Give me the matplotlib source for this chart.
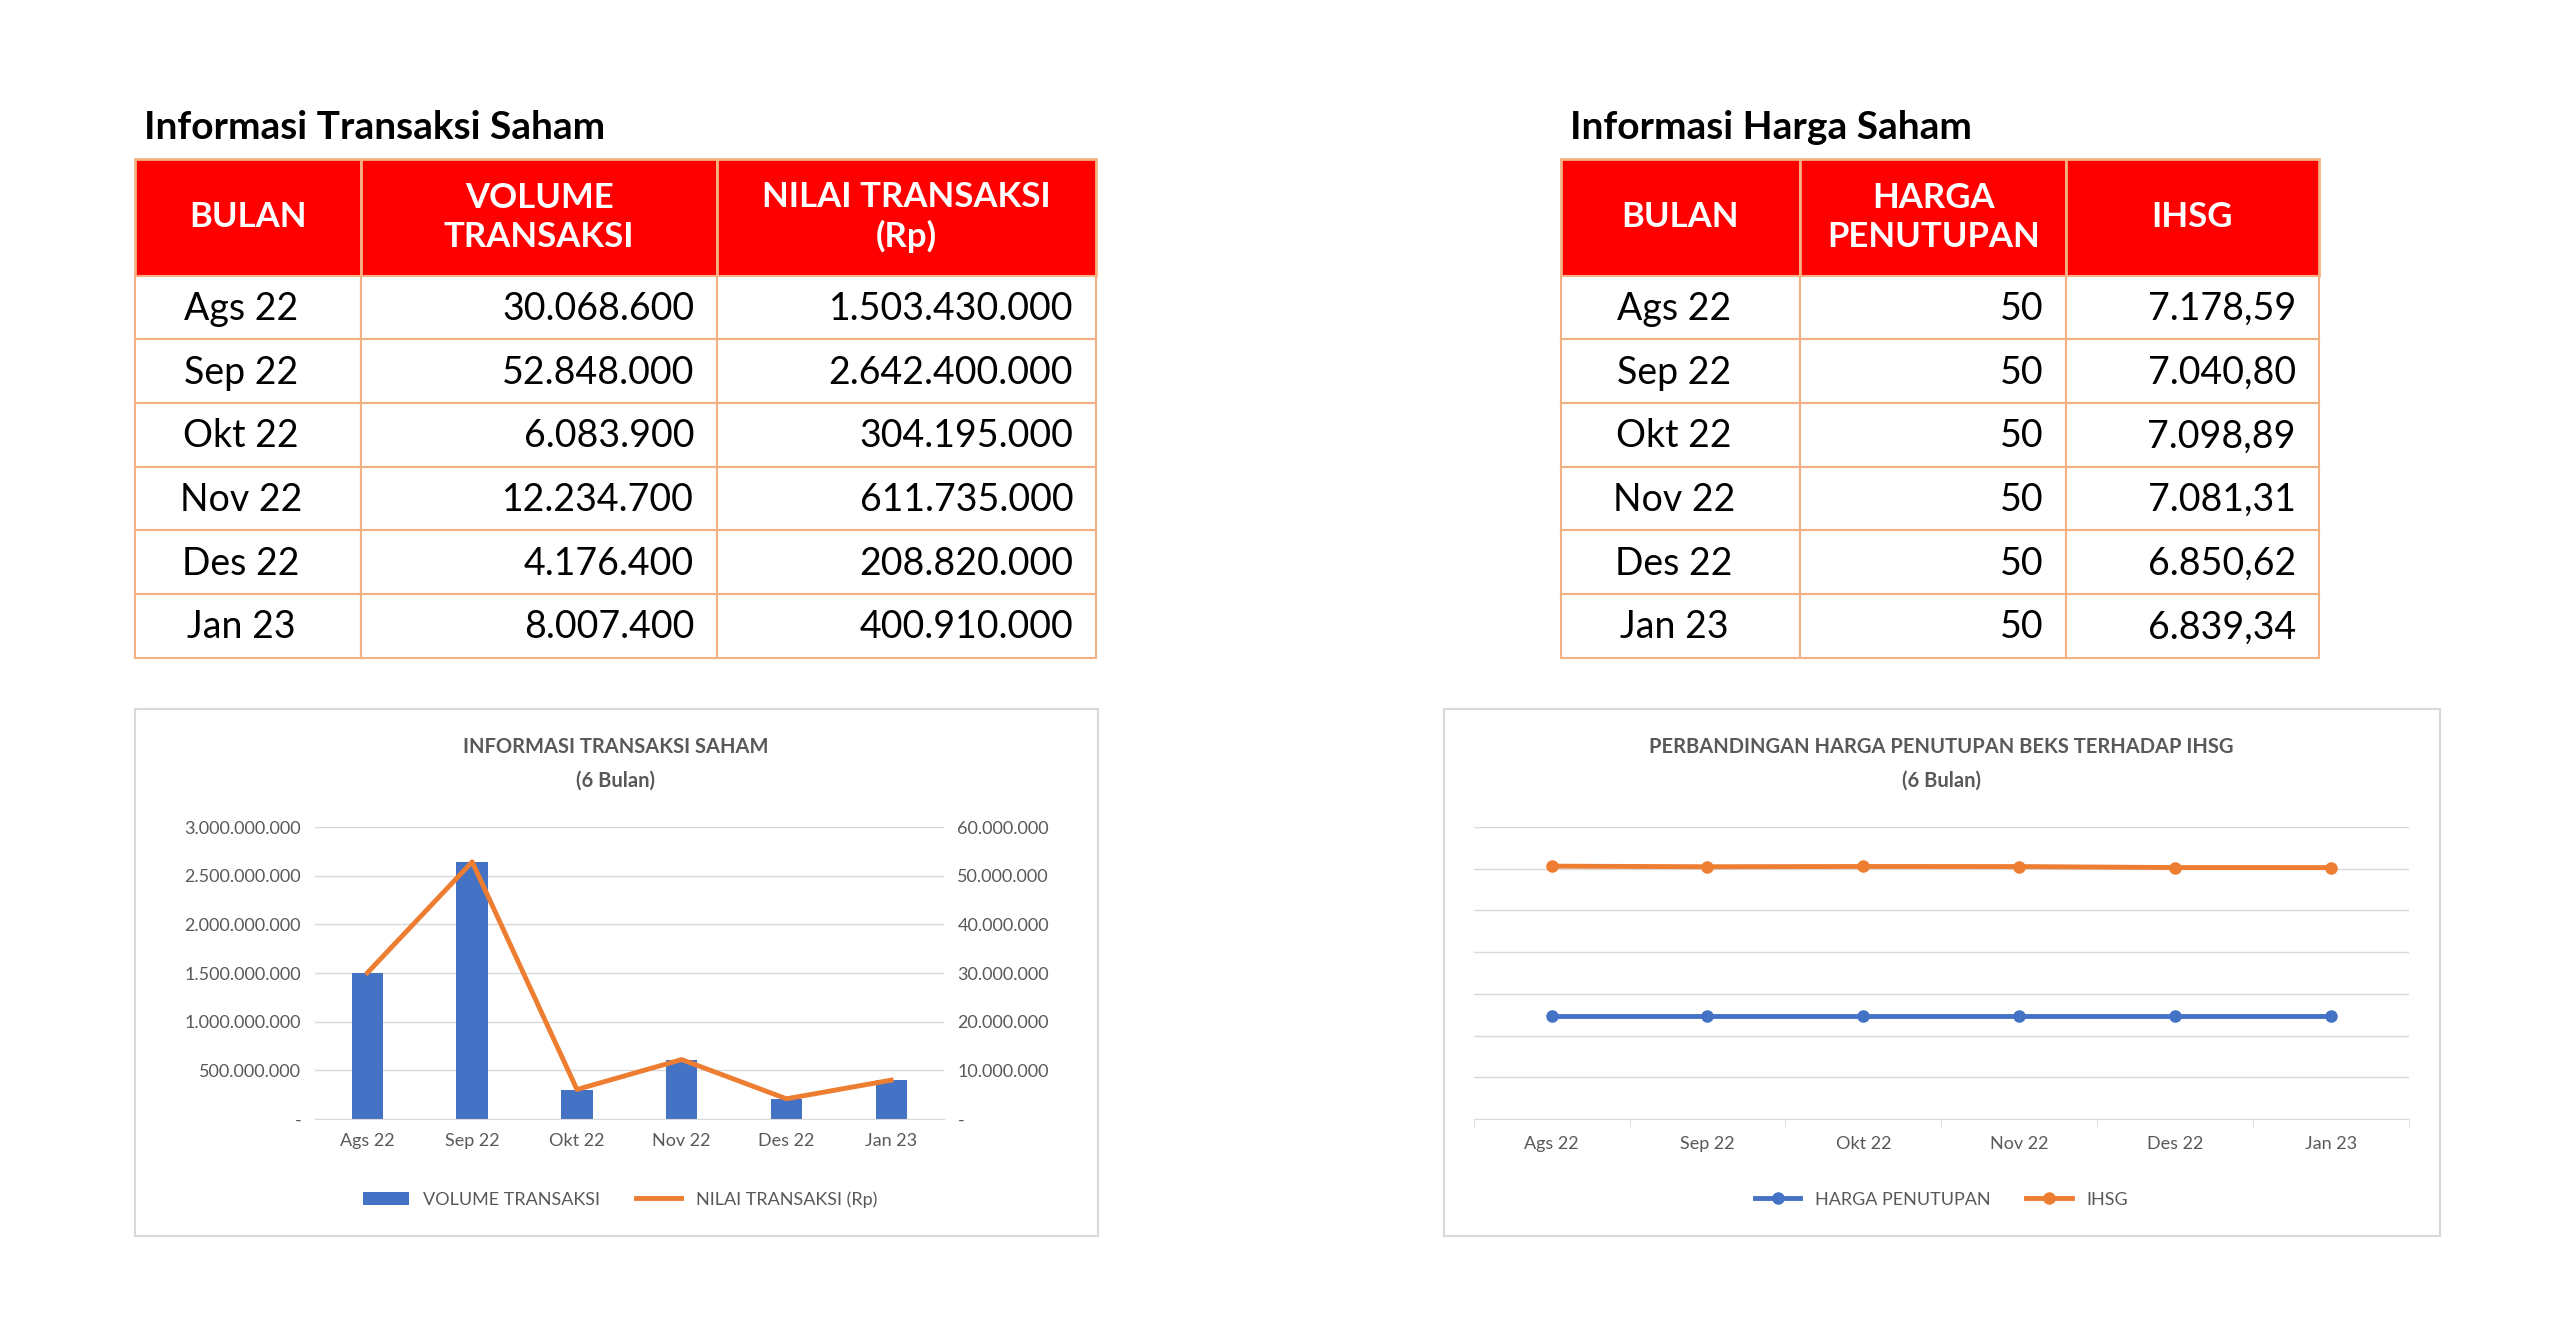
import matplotlib
matplotlib.use("Agg")
import matplotlib.pyplot as plt
from matplotlib.patches import Rectangle
from matplotlib.ticker import FuncFormatter, FixedLocator
import numpy as np

months = ["Ags 22", "Sep 22", "Okt 22", "Nov 22", "Des 22", "Jan 23"]
volume = [30068600, 52848000, 6083900, 12234700, 4176400, 8007400]
nilai = [1503430000, 2642400000, 304195000, 611735000, 208820000, 400910000]
harga = [50, 50, 50, 50, 50, 50]
ihsg = [7178.59, 7040.80, 7098.89, 7081.31, 6850.62, 6839.34]

def idn(v, dec=0):
    s = f"{v:,.{dec}f}"
    return s.replace(",", "X").replace(".", ",").replace("X", ".")

FONT = "Lato"
plt.rcParams["font.family"] = FONT
W, H = 1560, 816.6
fig = plt.figure(figsize=(25.6, 13.4), dpi=100)
ov = fig.add_axes([0, 0, 1, 1])
ov.set_xlim(0, W); ov.set_ylim(H, 0); ov.axis("off")

RED = "#FF0000"; ORANGE = "#F4B183"; BLUE = "#4472C4"; OR = "#ED7D31"

def table(x0, cols, title, headers, rows, aligns):
    y0, hh, rh = 97, 71, 38.8
    ov.text(x0 + 6, 78, title, fontsize=28, fontweight="bold", va="center")
    for i in range(len(cols) - 1):
        ov.add_patch(Rectangle((cols[i], y0), cols[i+1]-cols[i], hh, fc=RED, ec=ORANGE, lw=2))
        ov.text((cols[i]+cols[i+1])/2, y0+hh/2, headers[i], color="white", fontsize=25,
                fontweight="bold", ha="center", va="center", linespacing=1.25)
        for r, row in enumerate(rows):
            yy = y0 + hh + r*rh
            ov.add_patch(Rectangle((cols[i], yy), cols[i+1]-cols[i], rh, fc="white", ec=ORANGE, lw=1.5))
            if aligns[i] == "center":
                tx = (cols[i]+cols[i+1])/2 - 4
            else:
                tx = cols[i+1] - 14
            ov.text(tx, yy+rh/2+1, row[i], fontsize=27, ha=aligns[i] if aligns[i] == "center" else "right", va="center")

rows1 = [[m, idn(v), idn(n)] for m, v, n in zip(months, volume, nilai)]
table(82, [82, 220, 437, 668], "Informasi Transaksi Saham",
      ["BULAN", "VOLUME\nTRANSAKSI", "NILAI TRANSAKSI\n(Rp)"], rows1, ["center", "right", "right"])
rows2 = [[m, idn(h), idn(i, 2)] for m, h, i in zip(months, harga, ihsg)]
table(951, [951, 1097, 1259, 1413], "Informasi Harga Saham",
      ["BULAN", "HARGA\nPENUTUPAN", "IHSG"], rows2, ["center", "right", "right"])

# chart boxes
for bx in [(82, 669), (880, 1487)]:
    ov.add_patch(Rectangle((bx[0], 432), bx[1]-bx[0], 321, fc="white", ec="#D9D9D9", lw=1.5))

def fax(x0, x1, y0, y1):
    return fig.add_axes([x0/W, 1-y1/H, (x1-x0)/W, (y1-y0)/H])

GREY = "#595959"
# left chart
ax = fax(192, 575, 504, 682)
x = np.arange(len(months))
ax.bar(x, nilai, width=0.3, color=BLUE, label="VOLUME TRANSAKSI", zorder=2)
ax.set_ylim(0, 3e9); ax.set_yticks(np.arange(0, 3.01e9, 5e8))
fmt = FuncFormatter(lambda v, p: "-" if v == 0 else idn(v))
ax.yaxis.set_major_formatter(fmt)
ax.set_xlim(-0.5, 5.5); ax.set_xticks(x); ax.set_xticklabels(months)
ax.grid(axis="y", color="#D9D9D9", lw=1, zorder=0)
ax2 = ax.twinx()
ax2.plot(x, volume, color=OR, lw=3.5, label="NILAI TRANSAKSI (Rp)")
ax2.set_ylim(0, 6e7); ax2.set_yticks(np.arange(0, 6.01e7, 1e7)); ax2.yaxis.set_major_formatter(fmt)
for a in (ax, ax2):
    for s in a.spines.values(): s.set_visible(False)
    a.tick_params(length=0, labelsize=13, labelcolor=GREY, pad=10)
ax.spines["bottom"].set_visible(True); ax.spines["bottom"].set_color("#D9D9D9")
ov.text(375, 455, "INFORMASI TRANSAKSI SAHAM", fontsize=14.5, fontweight="bold", color=GREY, ha="center", va="center")
ov.text(375, 476, "(6 Bulan)", fontsize=14.5, fontweight="bold", color=GREY, ha="center", va="center")
h1, l1 = ax.get_legend_handles_labels(); h2, l2 = ax2.get_legend_handles_labels()
fig.legend(h1+h2, l1+l2, loc="center", bbox_to_anchor=(378/W, 1-731/H), ncol=2, frameon=False,
           fontsize=13, labelcolor=GREY, handlelength=2.5, columnspacing=2)

# right chart
ax3 = fax(898, 1468, 504, 682)
ax3.set_yscale("log", base=4)
ax3.plot(x, harga, color=BLUE, lw=3.5, marker="o", ms=8, label="HARGA PENUTUPAN")
ax3.plot(x, ihsg, color=OR, lw=3.5, marker="o", ms=8, label="IHSG")
bottom = 50 / 4**2.48
ax3.set_ylim(bottom, bottom * 4**7)
ax3.yaxis.set_major_locator(FixedLocator([bottom * 4**k for k in range(8)]))
ax3.yaxis.set_minor_locator(FixedLocator([]))
ax3.set_yticklabels([])
ax3.grid(axis="y", color="#D9D9D9", lw=1)
ax3.set_xlim(-0.5, 5.5); ax3.set_xticks(x); ax3.set_xticklabels(months)
ax3.set_xticks(np.arange(-0.5, 6, 1), minor=True)
for s in ax3.spines.values(): s.set_visible(False)
ax3.spines["bottom"].set_visible(True); ax3.spines["bottom"].set_color("#D9D9D9")
ax3.tick_params(axis="x", which="major", length=0, labelsize=13, labelcolor=GREY, pad=12)
ax3.tick_params(axis="x", which="minor", length=6, color="#D9D9D9")
ax3.tick_params(axis="y", length=0)
ov.text(1183, 455, "PERBANDINGAN HARGA PENUTUPAN BEKS TERHADAP IHSG", fontsize=14.5, fontweight="bold", color=GREY, ha="center", va="center")
ov.text(1183, 476, "(6 Bulan)", fontsize=14.5, fontweight="bold", color=GREY, ha="center", va="center")
ax3.legend(loc="center", bbox_to_anchor=(0.5, (682-731)/178), ncol=2, frameon=False,
           fontsize=13, labelcolor=GREY, handlelength=2.5, columnspacing=2)

fig.savefig("out.png", dpi=100, facecolor="white")
